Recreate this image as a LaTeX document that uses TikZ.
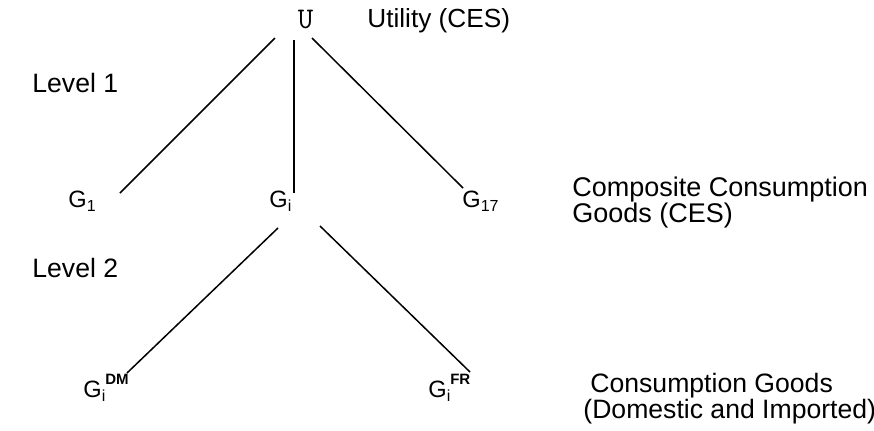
\documentclass[tikz,border=0pt]{standalone}
\usepackage{fontspec}
\setmainfont{Liberation Sans}
\newcommand{\sbs}[1]{\raisebox{-2.2pt}{\fontsize{8}{8}\selectfont #1}}
\newcommand{\sps}[1]{\raisebox{6.5pt}{\fontsize{7.5}{7.5}\selectfont\bfseries #1}}
\begin{document}
\begin{tikzpicture}[x=0.5pt,y=-0.5pt,
  lbl/.style={inner sep=0pt,anchor=base west,font=\fontsize{13.3}{13.3}\selectfont},
  gl/.style={inner sep=0pt,anchor=base west,font=\fontsize{11.8}{11.8}\selectfont},
  conn/.style={line width=0.75pt}]
\useasboundingbox (0,0) rectangle (874,430);
% nodes
\node[inner sep=0pt,anchor=base,font=\ttfamily\fontsize{15}{15}\selectfont] (U) at (305.5,28) {U};
\node[lbl,font=\fontsize{13.1}{13.1}\selectfont] (util) at (367,27) {Utility (CES)};
\node[lbl] (lev1) at (32,92) {Level 1};
\node[lbl] (lev2) at (32,277) {Level 2};
\node[gl] (G1) at (68,207) {G\sbs{1}};
\node[gl] (Gi) at (269,207) {G\sbs{i}};
\node[gl] (G17) at (462,207) {G\sbs{17}};
\node[lbl,font=\fontsize{13.5}{13.5}\selectfont] (comp1) at (572,196) {Composite Consumption};
\node[lbl,font=\fontsize{13.5}{13.5}\selectfont] (comp2) at (572,222) {Goods (CES)};
\node[gl] (GDM) at (83,397) {G\sbs{i}\sps{DM}};
\node[gl] (GFR) at (428,397) {G\sbs{i}\sps{FR}};
\node[lbl] (cons1) at (590,392) {Consumption Goods};
\node[lbl] (cons2) at (583,418) {(Domestic and Imported)};
% connector end points
\coordinate (uL) at (275,38);
\coordinate (uM) at (294,40);
\coordinate (uR) at (312,38);
\coordinate (g1t) at (120,193);
\coordinate (git) at (294,193);
\coordinate (g17t) at (463,188);
\coordinate (giL) at (278,228);
\coordinate (giR) at (320,226);
\coordinate (dmt) at (127,373);
\coordinate (frt) at (470,372);
\draw[conn] (uL) -- (g1t);
\draw[conn] (uM) -- (git);
\draw[conn] (uR) -- (g17t);
\draw[conn] (giL) -- (dmt);
\draw[conn] (giR) -- (frt);
\end{tikzpicture}
\end{document}
